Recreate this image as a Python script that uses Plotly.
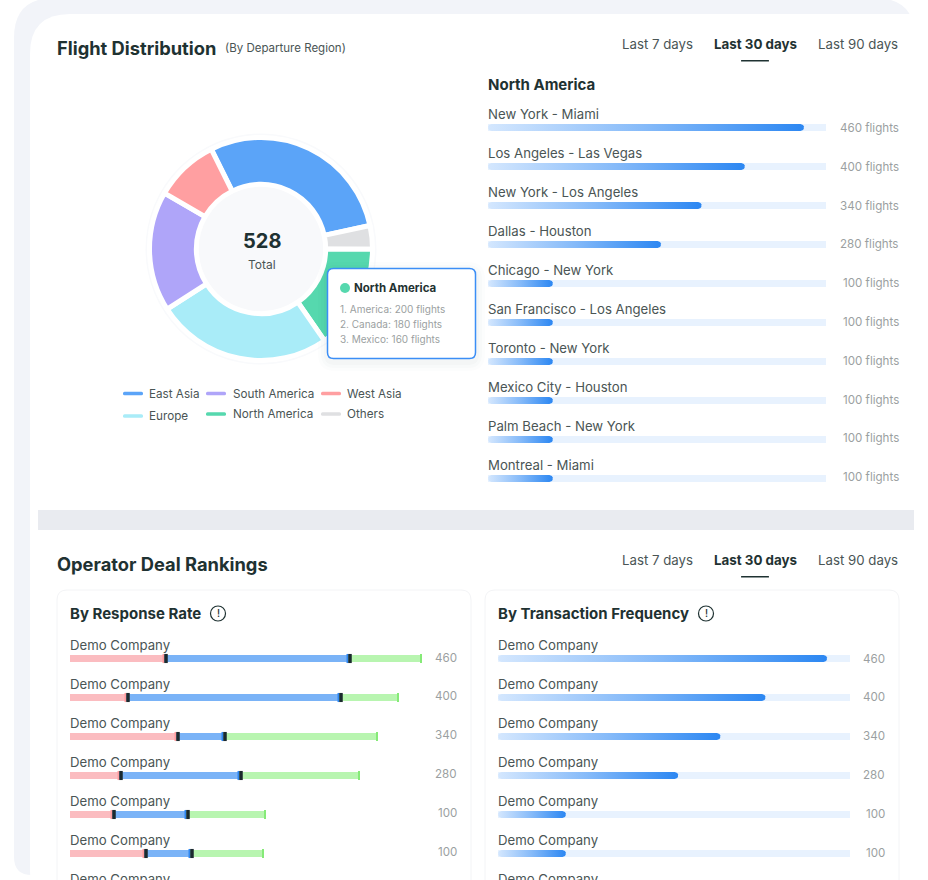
import numpy as np
import plotly.graph_objects as go

W, H = 928, 880
FONT = "Inter"
DARK = "#1f3232"
TEXT = "#4a5555"
MUTED = "#9b9fa1"

# donut
region_names = ["East Asia", "Others", "North America", "Europe", "South America", "West Asia"]
region_values = [153, 18, 81, 135, 92, 49]
region_colors = ["#5ba4f8", "#dfe0e2", "#56d8ae", "#a9ecf8", "#afa5f9", "#ff9fa1"]
total_flights = 528

tooltip_title = "North America"
tooltip_lines = ["1. America: 200 flights", "2. Canada: 180 flights", "3. Mexico: 160 flights"]

# route bars
routes = ["New York - Miami", "Los Angeles - Las Vegas", "New York - Los Angeles", "Dallas - Houston",
          "Chicago - New York", "San Francisco - Los Angeles", "Toronto - New York",
          "Mexico City - Houston", "Palm Beach - New York", "Montreal - Miami"]
route_flights = [460, 400, 340, 280, 100, 100, 100, 100, 100, 100]
route_fill = [93.5, 76, 63.2, 51.2, 19.2, 19.2, 19.2, 19.2, 19.2, 19.2]

# operator rankings
companies = ["Demo Company"] * 7
deal_values = [460, 400, 340, 280, 100, 100]
response_red = [94, 56, 106, 49, 42, 74]
response_blue = [184, 213, 47, 120, 74, 46]
response_green = [74, 60, 155, 121, 80, 74]
frequency_fill = [93.5, 76, 63.2, 51.2, 19.3, 19.3]

tabs = ["Last 7 days", "Last 30 days", "Last 90 days"]


def px(x):
    return x / W


def py(y):
    return 1 - y / H


annotations = []
shapes = []


def label(x, y, text, size=14, color=TEXT, weight=400, anchor="left"):
    # annotations keep a 1px pad around the text
    shift = {"left": -1, "right": 1, "center": 0}[anchor]
    annotations.append(dict(
        x=px(x + shift), y=py(y), xref="paper", yref="paper", text=text, showarrow=False,
        xanchor=anchor, yanchor="middle", borderpad=0,
        font=dict(family=FONT, size=size, color=color, weight=weight),
    ))


def rounded(x0, y0, x1, y1, r):
    return (f"M{px(x0 + r)},{py(y0)} L{px(x1 - r)},{py(y0)} "
            f"Q{px(x1)},{py(y0)} {px(x1)},{py(y0 + r)} L{px(x1)},{py(y1 - r)} "
            f"Q{px(x1)},{py(y1)} {px(x1 - r)},{py(y1)} L{px(x0 + r)},{py(y1)} "
            f"Q{px(x0)},{py(y1)} {px(x0)},{py(y1 - r)} L{px(x0)},{py(y0 + r)} "
            f"Q{px(x0)},{py(y0)} {px(x0 + r)},{py(y0)} Z")


def box(x0, y0, x1, y1, r, fill, line=None, width=0, layer="below"):
    shapes.append(dict(type="path", path=rounded(x0, y0, x1, y1, r), xref="paper", yref="paper",
                       fillcolor=fill, line=dict(color=line or fill, width=width), layer=layer))


def circle(cx, cy, r, fill, line=None, width=0, layer="below"):
    shapes.append(dict(type="circle", xref="paper", yref="paper",
                       x0=px(cx - r), x1=px(cx + r), y0=py(cy - r), y1=py(cy + r),
                       fillcolor=fill, line=dict(color=line or fill, width=width), layer=layer))


def tab_row(y):
    label(622, y, tabs[0], 13.25, TEXT)
    label(714, y, tabs[1], 13.35, DARK, 700)
    label(818, y, tabs[2], 13.25, TEXT)
    box(741, y + 16, 769, y + 17.5, 0.5, DARK)


def rounded_bar(value, row, unit_px, row_h):
    # bar outline in data units, with the ends rounded by the bar's half height
    rx = (row_h / 2) / unit_px
    t = np.linspace(-np.pi / 2, np.pi / 2, 9)
    xs = list(value - rx + rx * np.cos(t)) + list(rx - rx * np.cos(t[::-1]))
    ys = list(row + row_h / 2 / 39 * np.sin(t)) + list(row - row_h / 2 / 39 * np.sin(t))
    return xs + xs[:1], ys + ys[:1]


def gradient_bars(fig, fills, axis_n, unit_px):
    for i, v in enumerate(fills):
        xs, ys = rounded_bar(v, i, unit_px, 7)
        fig.add_trace(go.Scatter(
            x=xs, y=ys, mode="lines", fill="toself", line=dict(width=0), hoverinfo="skip",
            fillgradient=dict(type="horizontal", colorscale=[[0, "#d4e7fe"], [0.5, "#85baf9"], [1, "#2c87f2"]]),
            xaxis=f"x{axis_n}", yaxis=f"y{axis_n}", showlegend=False,
        ))


fig = go.Figure()

# page background and cards
box(14, -2, 915, 300, 40, "#f2f4f9")
box(14, 200, 915, 875, 18, "#f2f4f9")
box(30, 14, 960, 910, 40, "#ffffff")
box(38, 510, 914, 530, 0, "#e9ebf0")
box(57, 590, 471, 910, 10, "#ffffff", "#f3f4f6", 1)
box(485, 590, 899, 910, 10, "#ffffff", "#f3f4f6", 1)

# top card text
label(57, 47.8, "Flight Distribution", 18.3, DARK, 700)
label(225, 48, "(By Departure Region)", 11.5, TEXT)
tab_row(44)
label(488, 84, "North America", 15, DARK, 700)

# donut
circle(261, 249, 115.5, "#f9fafc")
circle(261, 249, 113.5, "#ffffff")
circle(261, 249, 66, "#f8f9fb")
fig.add_trace(go.Pie(
    labels=region_names, values=region_values, sort=False, direction="clockwise", rotation=-26.5,
    hole=0.58, textinfo="none", hoverinfo="label+value", showlegend=False,
    marker=dict(colors=region_colors, line=dict(color="#ffffff", width=5)),
    domain=dict(x=[px(261 - 111.5), px(261 + 111.5)], y=[py(249 + 111.5), py(249 - 111.5)]),
))
label(262, 241, str(total_flights), 20, DARK, 700, "center")
label(262, 264, "Total", 12, TEXT, 400, "center")

# legend drawn by hand, the rows do not line up with plotly's own
legend_items = [("East Asia", 123, 149, 393.5), ("South America", 206, 233, 393.5), ("West Asia", 321, 347, 393.5),
                ("Europe", 123, 149, 416), ("North America", 206, 233, 414), ("Others", 321, 347, 414)]
for name, line_x, text_x, y in legend_items:
    box(line_x, y - 1.75, line_x + 20, y + 1.75, 1.5, region_colors[region_names.index(name)], layer="above")
    label(text_x, y, name, 11.7, TEXT)

# tooltip
for grow, alpha in [(9, 0.012), (6, 0.016), (3, 0.02)]:
    box(327 - grow, 268 - grow + 3, 476 + grow, 359 + grow + 3, 8 + grow, f"rgba(30,50,70,{alpha})", layer="above")
box(327.5, 268.5, 475.5, 358.5, 6, "#ffffff", "#3b8ef6", 1.5, layer="above")
circle(345, 288, 5, "#56d8ae", layer="above")
label(354, 288, tooltip_title, 11.5, DARK, 700)
for i, line in enumerate(tooltip_lines):
    label(340, 309 + 15 * i, line, 10, MUTED)

# route bars
fig.add_trace(go.Bar(
    y=list(range(len(routes))), x=[100] * len(routes), orientation="h", width=7 / 39,
    marker=dict(color="#e8f2fe", line=dict(width=0)), hoverinfo="skip", showlegend=False,
    xaxis="x1", yaxis="y1",
))
gradient_bars(fig, route_fill, 1, 3.38)
for i, (route, n) in enumerate(zip(routes, route_flights)):
    annotations.append(dict(x=0, y=i - 0.335, xref="x1", yref="y1", text=route, showarrow=False, xanchor="left",
                            xshift=-1, yanchor="middle", borderpad=0, font=dict(family=FONT, size=13.2, color=TEXT)))
    label(899, 128 + 38.8 * i, f"{n} flights", 11.6, MUTED, anchor="right")

# bottom card
label(57, 564, "Operator Deal Rankings", 18.3, DARK, 700)
tab_row(560)
label(70, 613.5, "By Response Rate", 15, DARK, 700)
label(498, 613.5, "By Transaction Frequency", 15, DARK, 700)
for cx in [218, 706]:
    circle(cx, 613.5, 7.5, "rgba(0,0,0,0)", DARK, 1.2)
    label(cx, 613, "!", 10, DARK, 500, "center")

# stacked response bars
for values, color, name in [(response_red, "#fbbcc0", "Slow"),
                            (response_blue, "#7ab3f7", "Medium"),
                            (response_green, "#b8f5b0", "Fast")]:
    fig.add_trace(go.Bar(
        y=list(range(len(values))), x=values, orientation="h", width=7 / 39, name=name,
        marker=dict(color=color, line=dict(width=0)), hoverinfo="x", showlegend=False,
        xaxis="x2", yaxis="y2",
    ))
red_end = np.array(response_red)
blue_end = red_end + np.array(response_blue)
green_end = blue_end + np.array(response_green)
rows = list(range(len(red_end)))
for xs, color, width in [(red_end - 0.5, "#ff9d9f", 2), (blue_end - 0.5, "#2f86f0", 2), (green_end - 1, "#86ea78", 2),
                         (red_end + 2, "#1b2a2e", 3.5), (blue_end + 2, "#1b2a2e", 3.5)]:
    fig.add_trace(go.Scatter(
        x=xs, y=rows, mode="markers", hoverinfo="skip", showlegend=False,
        marker=dict(symbol="line-ns", size=6.5, line=dict(color=color, width=width)),
        xaxis="x2", yaxis="y2",
    ))

# frequency bars
fig.add_trace(go.Bar(
    y=list(range(len(frequency_fill))), x=[100] * len(frequency_fill), orientation="h", width=7 / 39,
    marker=dict(color="#e8f2fe", line=dict(width=0)), hoverinfo="skip", showlegend=False,
    xaxis="x3", yaxis="y3",
))
gradient_bars(fig, frequency_fill, 3, 3.52)

for i, company in enumerate(companies):
    for ref in ["2", "3"]:
        annotations.append(dict(x=0, y=i - 0.335, xref=f"x{ref}", yref=f"y{ref}", text=company, showarrow=False,
                                xshift=-1, xanchor="left", yanchor="middle", borderpad=0,
                                font=dict(family=FONT, size=13.2, color=TEXT)))
for i, v in enumerate(deal_values):
    label(457, 657.5 + 38.8 * i, str(v), 11.6, MUTED, anchor="right")
    label(885, 658.5 + 38.8 * i, str(v), 11.6, MUTED, anchor="right")

hidden = dict(visible=False, showgrid=False, zeroline=False, fixedrange=True)
bottom_range = [(880 - 658.5) / 39, -0.5]
fig.update_layout(
    width=W, height=H, autosize=False,
    margin=dict(l=0, r=0, t=0, b=0, pad=0),
    paper_bgcolor="#ffffff", plot_bgcolor="rgba(0,0,0,0)",
    font=dict(family=FONT),
    barmode="stack", barcornerradius=0,
    xaxis=dict(hidden, domain=[px(488), px(826)], range=[0, 100]),
    yaxis=dict(hidden, domain=[py(498), py(108)], range=[9.5, -0.5]),
    xaxis2=dict(hidden, domain=[px(70), px(422)], range=[0, 352]),
    yaxis2=dict(hidden, domain=[py(880), py(639)], range=bottom_range),
    xaxis3=dict(hidden, domain=[px(498), px(850)], range=[0, 100]),
    yaxis3=dict(hidden, domain=[py(880), py(639)], range=bottom_range),
    shapes=shapes, annotations=annotations,
)

fig.write_html("out.html", config={"displayModeBar": False},
               post_script="document.body.style.margin='0';document.body.style.overflow='hidden';")
